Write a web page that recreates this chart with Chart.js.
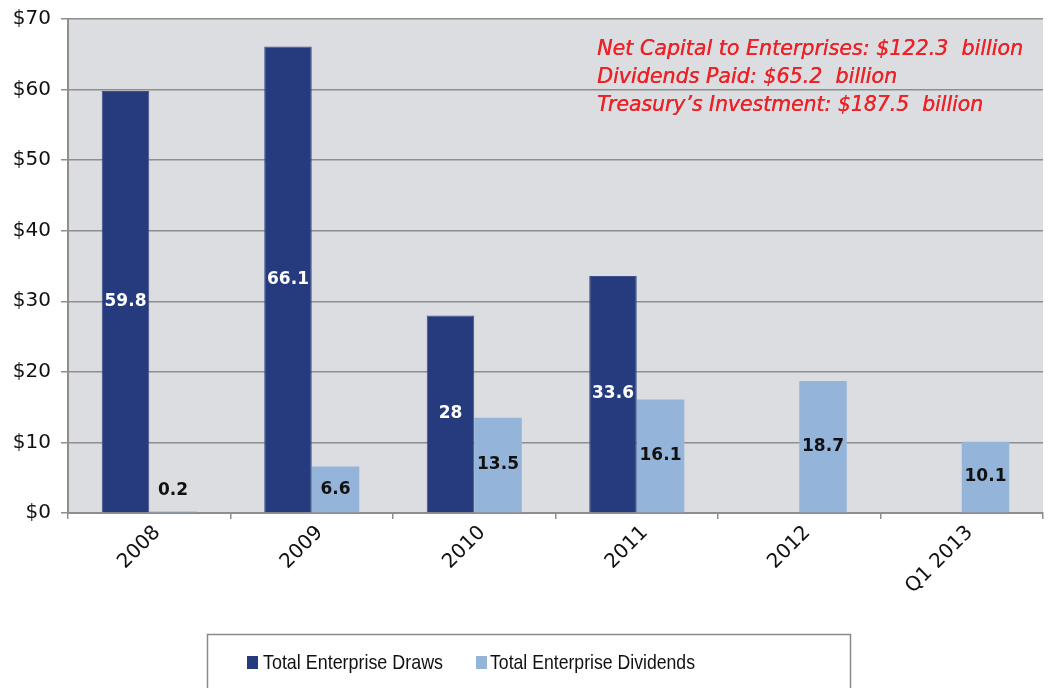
<!DOCTYPE html>
<html><head><meta charset="utf-8">
<script src="https://cdn.jsdelivr.net/npm/chart.js@4"></script>
<style>html,body{margin:0;padding:0;background:#fff;}</style>
</head><body>
<canvas id="c" width="1048" height="688"></canvas>
<script>
const categories = ['2008', '2009', '2010', '2011', '2012', 'Q1 2013'];
const draws = [59.8, 66.1, 28, 33.6, null, null];
const dividends = [0.2, 6.6, 13.5, 16.1, 18.7, 10.1];
const drawLabels = ['59.8', '66.1', '28', '33.6', '', ''];
const dividendLabels = ['0.2', '6.6', '13.5', '16.1', '18.7', '10.1'];
const yMin = 0, yMax = 70, yStep = 10;
const seriesNames = ['Total Enterprise Draws', 'Total Enterprise Dividends'];
const noteLines = [
  'Net Capital to Enterprises: $122.3  billion',
  'Dividends Paid: $65.2  billion',
  'Treasury\u2019s Investment: $187.5  billion'
];

const DARK = '#263a7e', LIGHT = '#95b4d9', GRID = '#8e8e8e', PLOT_BG = '#dcdde0';

function fitText(ctx, text, x, y, maxW) {
  const w = ctx.measureText(text).width;
  ctx.save();
  ctx.translate(x, y);
  ctx.scale(maxW / w, 1);
  ctx.fillText(text, 0, 0);
  ctx.restore();
}

const bgPlugin = {
  id: 'bg',
  beforeDraw(chart) {
    const { ctx, chartArea: a } = chart;
    ctx.save();
    ctx.fillStyle = PLOT_BG;
    ctx.fillRect(a.left, a.top, a.right - a.left, a.bottom - a.top);
    ctx.restore();
  }
};

const labelPlugin = {
  id: 'barLabels',
  afterDatasetsDraw(chart) {
    const { ctx } = chart;
    const texts = [drawLabels, dividendLabels];
    const colors = ['#ffffff', '#111111'];
    ctx.save();
    ctx.font = 'bold 17px "DejaVu Sans", sans-serif';
    ctx.textAlign = 'center';
    ctx.textBaseline = 'middle';
    chart.data.datasets.forEach((ds, i) => {
      chart.getDatasetMeta(i).data.forEach((el, j) => {
        const t = texts[i][j];
        if (!t || ds.data[j] == null) return;
        let y = (el.y + el.base) / 2;
        if (el.base - el.y < 30) y = el.base - 22;
        ctx.fillStyle = colors[i];
        ctx.fillText(t, el.x, y);
      });
    });
    ctx.restore();
  }
};

const notesPlugin = {
  id: 'notes',
  afterDraw(chart) {
    const { ctx } = chart;
    const widths = [426, 300, 386];
    ctx.save();
    ctx.fillStyle = '#ec2227';
    ctx.font = 'italic 500 22px "DejaVu Sans", sans-serif';
    ctx.textBaseline = 'alphabetic';
    ctx.textAlign = 'left';
    noteLines.forEach((t, i) => {
      fitText(ctx, t, 597, 55 + i * 28, widths[i]);
      fitText(ctx, t, 597.4, 55 + i * 28, widths[i]);
    });
    ctx.restore();
  }
};

const legendPlugin = {
  id: 'customLegend',
  afterDraw(chart) {
    const { ctx } = chart;
    ctx.save();
    ctx.strokeStyle = '#8a8a8a';
    ctx.lineWidth = 1.5;
    ctx.strokeRect(207.5, 634.5, 643, 70);
    ctx.font = '21px "Liberation Sans", Arial, sans-serif';
    ctx.textBaseline = 'middle';
    ctx.fillStyle = DARK;
    ctx.fillRect(247, 656, 11, 13);
    ctx.fillStyle = LIGHT;
    ctx.fillRect(476, 656, 11, 13);
    ctx.fillStyle = '#111';
    fitText(ctx, seriesNames[0], 263, 663, 180);
    fitText(ctx, seriesNames[1], 490, 663, 205);
    ctx.restore();
  }
};

new Chart(document.getElementById('c'), {
  type: 'bar',
  data: {
    labels: categories,
    datasets: [
      { label: seriesNames[0], data: draws, backgroundColor: DARK, borderColor: '#3c4f8c', borderWidth: 1,
        categoryPercentage: 0.585, barPercentage: 1 },
      { label: seriesNames[1], data: dividends, backgroundColor: LIGHT, borderWidth: 0,
        categoryPercentage: 0.585, barPercentage: 1 }
    ]
  },
  options: {
    responsive: false,
    animation: false,
    layout: { padding: { top: 19, right: 5, left: 0, bottom: 0 } },
    plugins: { legend: { display: false }, tooltip: { enabled: false } },
    scales: {
      x: {
        offset: true,
        grid: { display: true, offset: true, drawOnChartArea: false, drawTicks: true, tickLength: 6, color: GRID, lineWidth: 1.5 },
        border: { display: true, color: GRID, width: 2 },
        ticks: { minRotation: 45, maxRotation: 45, color: '#111', padding: 2, labelOffset: 8,
          font: { size: 20, family: '"DejaVu Sans", sans-serif' } },
        afterFit(s) { s.height = 175; }
      },
      y: {
        min: yMin, max: yMax,
        grid: { color: GRID, lineWidth: 1.5, tickLength: 7, drawTicks: true },
        border: { display: true, color: GRID, width: 2 },
        ticks: { stepSize: yStep, color: '#111', padding: 10,
          font: { size: 20, family: '"DejaVu Sans", sans-serif', lineHeight: 1 },
          callback: v => '$' + v },
        afterFit(s) { s.width = 68; s.paddingTop = 0; s.paddingBottom = 0; }
      }
    }
  },
  plugins: [bgPlugin, labelPlugin, notesPlugin, legendPlugin]
});
</script>
</body></html>
